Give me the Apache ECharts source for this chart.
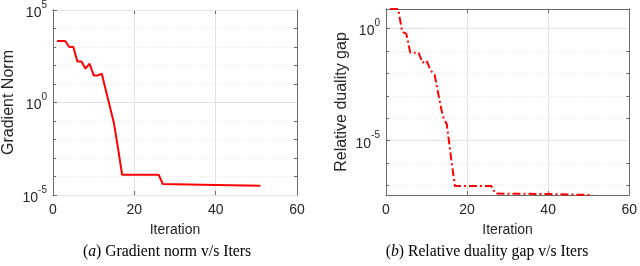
<!DOCTYPE html>
<html>
<head>
<meta charset="utf-8">
<script src="https://cdn.jsdelivr.net/npm/echarts@6/dist/echarts.min.js"></script>
<style>
html,body{margin:0;padding:0;background:#fff;}
#c{width:640px;height:266px;}
</style>
</head>
<body>
<div id="c"></div>
<script>
// ---- data ----
const itersA = [1,2,3,4,5,6,7,8,9,10,11,12,13,14,15,16,17,26,27,40,51];
const gradNorm = [2100,2100,2100,1000,1000,165,165,67,125,29,29,36,4.5,0.58,0.074,3.2e-3,1.23e-4,1.23e-4,3.9e-5,3.5e-5,3.2e-5];

const itersB = [1,2,3,4,5,6,7,8,9,10,11,12,13,14,15,16,17,26,27,40,51];
const dualityGap = [7.5,7.5,7.5,0.71,0.60,0.083,0.083,0.089,0.030,0.038,0.0135,0.0089,9.8e-4,1.26e-4,5.4e-5,2.0e-6,9.5e-8,9.5e-8,4.4e-8,4.2e-8,3.8e-8];

const xTicks = [0, 20, 40, 60];
const yMajorA = [1e-5, 1, 1e5];
const yMinorA = [1e-5, 1e-4, 1e-3, 1e-2, 1e-1, 1, 1e1, 1e2, 1e3, 1e4, 1e5];
const yMajorB = [1e-5, 1];
const yMinorB = [1e-7, 1e-6, 1e-5, 1e-4, 1e-3, 1e-2, 1e-1, 1];
const yRangeA = [1e-5, 1e5];
const yRangeB = [Math.min(...dualityGap), Math.max(...dualityGap)];

const titles = {
  xName: 'Iteration',
  yNameA: 'Gradient Norm',
  yNameB: 'Relative duality gap',
  capA: ['a', ' Gradient norm v/s Iters'],
  capB: ['b', ' Relative duality gap v/s Iters']
};

// ---- styling ----
const SANS = '"Liberation Sans", Arial, Helvetica, sans-serif';
const SERIF = '"Liberation Serif", "Times New Roman", serif';
const AXC = '#6b6b6b';
const TXT = '#262626';
const GRIDC = '#e3e3e3';

function pair(arrX, arrY) { return arrX.map((x, i) => [x, arrY[i]]); }

function supLabel(custom) {
  return {
    fontFamily: SANS, color: TXT, margin: 6,
    customValues: custom,
    formatter: v => '{b|10}{s|' + Math.round(Math.log10(v)) + '}',
    rich: {
      b: { fontFamily: SANS, fontSize: 14, color: TXT, lineHeight: 20, verticalAlign: 'bottom' },
      s: { fontFamily: SANS, fontSize: 10, color: TXT, lineHeight: 20, verticalAlign: 'top' }
    }
  };
}

function xAxes(gi) {
  const base = {
    type: 'value', gridIndex: gi, min: xTicks[0], max: xTicks[xTicks.length - 1],
    interval: xTicks[1] - xTicks[0],
    axisLine: { show: true, onZero: false, lineStyle: { color: AXC, width: 1 } },
    axisTick: { show: true, inside: true, length: 4, lineStyle: { color: AXC } }
  };
  return [
    Object.assign({}, base, {
      position: 'bottom',
      name: titles.xName, nameLocation: 'middle', nameGap: 28,
      nameTextStyle: { fontFamily: SANS, fontSize: 14, color: TXT },
      axisLabel: { fontFamily: SANS, fontSize: 14, color: TXT, margin: 8 },
      splitLine: { show: true, lineStyle: { color: GRIDC, width: 1 } }
    }),
    Object.assign({}, base, {
      position: 'top', axisLabel: { show: false }, splitLine: { show: false }
    })
  ];
}

function yAxes(gi, range, name, major, minor) {
  const base = {
    type: 'log', logBase: 10, gridIndex: gi, min: range[0], max: range[1],
    axisLine: { show: true, onZero: false, lineStyle: { color: AXC, width: 1 } }
  };
  return [
    // labeled major axis
    Object.assign({}, base, {
      position: 'left',
      name: name, nameLocation: 'middle', nameGap: 36,
      nameTextStyle: { fontFamily: SANS, fontSize: 16, color: TXT },
      axisLabel: supLabel(major),
      axisTick: { show: true, inside: true, length: 4, customValues: major, lineStyle: { color: AXC } },
      splitLine: { show: true, lineStyle: { color: GRIDC, width: 1 } },
      z: 3
    }),
    // decade minor grid
    Object.assign({}, base, {
      position: 'left',
      axisLabel: { show: false },
      axisTick: { show: true, inside: true, length: 3, customValues: minor, lineStyle: { color: AXC } },
      splitLine: { show: true, lineStyle: { color: GRIDC, width: 1, type: [1, 2] } }
    }),
    // mirrored right axis
    Object.assign({}, base, {
      position: 'right',
      axisLabel: { show: false },
      axisTick: { show: true, inside: true, length: 3, customValues: minor, lineStyle: { color: AXC } },
      splitLine: { show: false }
    })
  ];
}

const option = {
  animation: false,
  backgroundColor: '#ffffff',
  grid: [
    { left: 51, right: 343, top: 9, height: 186, containLabel: false },
    { left: 386, right: 9, top: 9, height: 186, containLabel: false }
  ],
  xAxis: [...xAxes(0), ...xAxes(1)],
  yAxis: [
    ...yAxes(0, yRangeA, titles.yNameA, yMajorA, yMinorA),
    ...yAxes(1, yRangeB, titles.yNameB, yMajorB, yMinorB)
  ],
  series: [
    {
      type: 'line', xAxisIndex: 0, yAxisIndex: 0, data: pair(itersA, gradNorm),
      showSymbol: false, symbol: 'none',
      lineStyle: { color: '#ff0000', width: 2 }, z: 5
    },
    {
      type: 'line', xAxisIndex: 2, yAxisIndex: 3, data: pair(itersB, dualityGap),
      showSymbol: false, symbol: 'none', clip: false,
      lineStyle: { color: '#ff0000', width: 2, type: [8, 3, 2, 3] }, z: 5
    }
  ]
};

function caption(cx, parts) {
  return {
    type: 'text', x: cx, y: 252,
    style: {
      text: '({i|' + parts[0] + '})' + parts[1],
      fontFamily: SERIF, fontSize: 15.7, fill: '#000',
      align: 'center', verticalAlign: 'middle',
      rich: { i: { fontFamily: SERIF, fontSize: 15.7, fontStyle: 'italic', fill: '#000' } }
    }
  };
}
option.graphic = [caption(167, titles.capA), caption(487, titles.capB)];

const chart = echarts.init(document.getElementById('c'), null, { renderer: 'canvas' });
chart.setOption(option);
</script>
</body>
</html>
